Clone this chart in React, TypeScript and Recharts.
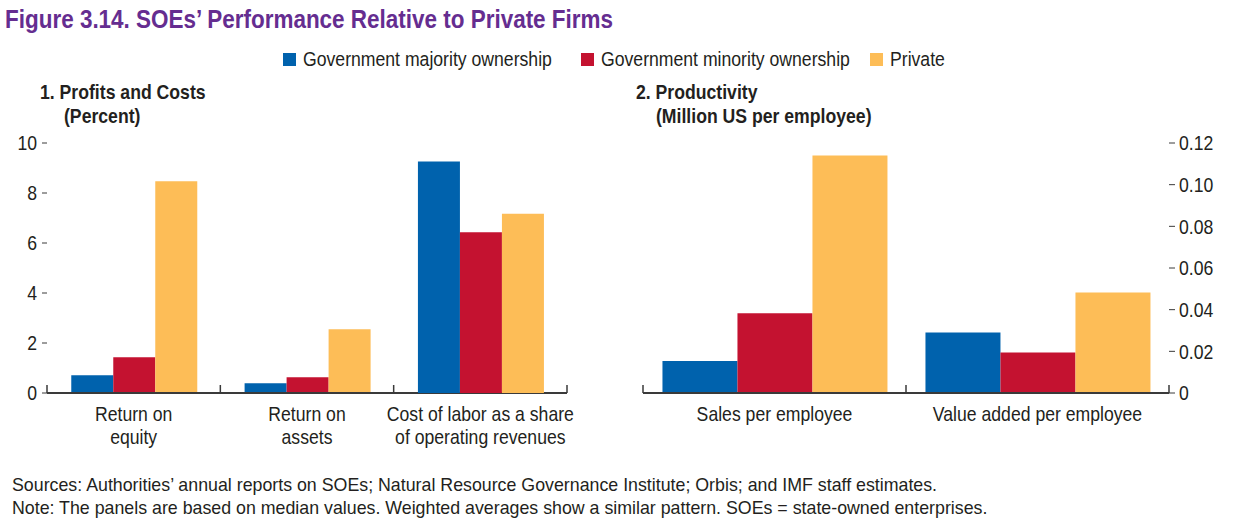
import React from 'react';
import { BarChart, Bar, XAxis, YAxis } from 'recharts';

const FONT = '"Liberation Sans", Arial, sans-serif';
const INK = '#231f20';
const AXIS = '#3a3a3a';
const SX = 0.86; // horizontal squeeze to imitate the condensed face
const FS = 20.5;

const seriesNames = ['Government majority ownership', 'Government minority ownership', 'Private'];
const seriesColors = ['#0062ad', '#c41230', '#fdbd57'];
const legendLeft = [283, 581, 870];

// Panel 1: first two categories read on the left axis, the third on the right axis
const profitCategories = [
  ['Return on', 'equity'],
  ['Return on', 'assets'],
  ['Cost of labor as a share', 'of operating revenues'],
];
const profitMajority = [0.71, 0.39, 32.4];
const profitMinority = [1.43, 0.63, 22.5];
const profitPrivate = [8.47, 2.55, 25.1];
const profitOnRight = [false, false, true];
const profitLeftTicks = [0, 2, 4, 6, 8, 10];
const profitRightTicks = [0, 5, 10, 15, 20, 25, 30, 35];

// Panel 2
const prodCategories = [['Sales per employee'], ['Value added per employee']];
const prodMajority = [0.0154, 0.0291];
const prodMinority = [0.0383, 0.0195];
const prodPrivate = [0.114, 0.0482];
const prodTicks = [0, 0.02, 0.04, 0.06, 0.08, 0.1, 0.12];

const footnotes = [
  'Sources: Authorities’ annual reports on SOEs; Natural Resource Governance Institute; Orbis; and IMF staff estimates.',
  'Note: The panels are based on median values. Weighted averages show a similar pattern. SOEs = state-owned enterprises.',
];

const profitData = profitCategories.map((lines, i) => {
  const r = profitOnRight[i];
  return {
    name: lines.join(' '),
    lines,
    majL: r ? null : profitMajority[i],
    minL: r ? null : profitMinority[i],
    prvL: r ? null : profitPrivate[i],
    majR: r ? profitMajority[i] : null,
    minR: r ? profitMinority[i] : null,
    prvR: r ? profitPrivate[i] : null,
  };
});

const prodData = prodCategories.map((lines, i) => ({
  name: lines.join(' '),
  lines,
  maj: prodMajority[i],
  min: prodMinority[i],
  prv: prodPrivate[i],
}));

function Narrow({ children, sx = SX }: { children: React.ReactNode; sx?: number }) {
  return (
    <span style={{ display: 'inline-block', transform: `scaleX(${sx})`, transformOrigin: 'left center', whiteSpace: 'nowrap' }}>
      {children}
    </span>
  );
}

function CategoryTick(props: any) {
  const { x, y, payload, index, rows } = props;
  const off = payload?.offset ?? 0;
  const row = rows.find((d: any) => d.name === payload.value);
  const lines: string[] = row ? row.lines : [String(payload.value)];
  const last = index === rows.length - 1;
  return (
    <g>
      <line x1={x - off} x2={x - off} y1={y} y2={y - 8} stroke={AXIS} strokeWidth={1.5} />
      {last && <line x1={x + off} x2={x + off} y1={y} y2={y - 8} stroke={AXIS} strokeWidth={1.5} />}
      {lines.map((t, k) => (
        <text
          key={k}
          transform={`translate(${x} ${y + 28 + k * 23}) scale(${SX} 1)`}
          textAnchor="middle"
          fill={INK}
          fontSize={FS}
          fontFamily={FONT}
        >
          {t}
        </text>
      ))}
    </g>
  );
}

function ValueTick(props: any) {
  const { x, y, payload, textAnchor, fmt } = props;
  const label = fmt ? fmt(payload.value) : String(payload.value);
  return (
    <text
      transform={`translate(${x} ${y}) scale(${SX} 1)`}
      textAnchor={textAnchor}
      dy="0.36em"
      fill={INK}
      fontSize={FS}
      fontFamily={FONT}
    >
      {label}
    </text>
  );
}

const prodFmt = (v: number) => (v === 0 ? '0' : v.toFixed(2));
const CHART_H = 460;
const MARGIN = { top: 143, right: 0, bottom: 0, left: 0 };

export default function App() {
  return (
    <div
      style={{
        position: 'absolute',
        left: 0,
        top: 0,
        width: 1234,
        height: 532,
        background: '#fff',
        fontFamily: FONT,
        color: INK,
        overflow: 'hidden',
      }}
    >
      <div style={{ position: 'absolute', left: 5, top: 3, fontSize: 26, lineHeight: '32px', fontWeight: 'bold', color: '#652d90' }}>
        <Narrow sx={0.864}>Figure 3.14. SOEs’ Performance Relative to Private Firms</Narrow>
      </div>

      {seriesNames.map((n, i) => (
        <div
          key={n}
          style={{ position: 'absolute', left: legendLeft[i], top: 47, display: 'flex', alignItems: 'center', fontSize: FS, lineHeight: '24px' }}
        >
          <span style={{ width: 13, height: 13, background: seriesColors[i], marginRight: 7, display: 'inline-block' }} />
          <Narrow>{n}</Narrow>
        </div>
      ))}

      <div style={{ position: 'absolute', left: 40, top: 80, fontSize: FS, fontWeight: 'bold', lineHeight: '24px' }}>
        <Narrow>1. Profits and Costs</Narrow>
        <br />
        <span style={{ marginLeft: 24 }}>
          <Narrow>(Percent)</Narrow>
        </span>
      </div>
      <div style={{ position: 'absolute', left: 636, top: 80, fontSize: FS, fontWeight: 'bold', lineHeight: '24px' }}>
        <Narrow>2. Productivity</Narrow>
        <br />
        <span style={{ marginLeft: 20 }}>
          <Narrow>(Million US per employee)</Narrow>
        </span>
      </div>

      {/* panel 1, left-axis bars and all visible axes */}
      <div style={{ position: 'absolute', left: 0, top: 0 }}>
        <BarChart width={617} height={CHART_H} data={profitData} margin={MARGIN} barCategoryGap="14%" barGap={0}>
          <XAxis
            dataKey="name"
            height={CHART_H - 143 - 250}
            axisLine={{ stroke: AXIS, strokeWidth: 2 }}
            tickLine={false}
            tickSize={0}
            tickMargin={0}
            interval={0}
            tick={(p: any) => <CategoryTick {...p} rows={profitData} />}
          />
          <YAxis
            yAxisId="left"
            width={47}
            domain={[0, 10]}
            ticks={profitLeftTicks}
            axisLine={false}
            tickLine={{ stroke: AXIS }}
            tickSize={5}
            tickMargin={5}
            tick={(p: any) => <ValueTick {...p} />}
          />
          <YAxis
            yAxisId="right"
            orientation="right"
            width={50}
            domain={[0, 35]}
            ticks={profitRightTicks}
            axisLine={false}
            tickLine={{ stroke: AXIS }}
            tickSize={6}
            tickMargin={4}
            tick={(p: any) => <ValueTick {...p} />}
          />
          <Bar yAxisId="left" dataKey="majL" fill={seriesColors[0]} isAnimationActive={false} />
          <Bar yAxisId="left" dataKey="minL" fill={seriesColors[1]} isAnimationActive={false} />
          <Bar yAxisId="left" dataKey="prvL" fill={seriesColors[2]} isAnimationActive={false} />
        </BarChart>
      </div>

      {/* panel 1, right-axis bars drawn on the same plot area */}
      <div style={{ position: 'absolute', left: 0, top: 0 }}>
        <BarChart width={617} height={CHART_H} data={profitData} margin={MARGIN} barCategoryGap="14%" barGap={0}>
          <XAxis dataKey="name" height={CHART_H - 143 - 250} axisLine={false} tickLine={false} tick={false} />
          <YAxis yAxisId="left" width={47} domain={[0, 10]} axisLine={false} tickLine={false} tick={false} />
          <YAxis
            yAxisId="right"
            orientation="right"
            width={50}
            domain={[0, 35]}
            axisLine={false}
            tickLine={false}
            tick={false}
          />
          <Bar yAxisId="right" dataKey="majR" fill={seriesColors[0]} isAnimationActive={false} />
          <Bar yAxisId="right" dataKey="minR" fill={seriesColors[1]} isAnimationActive={false} />
          <Bar yAxisId="right" dataKey="prvR" fill={seriesColors[2]} isAnimationActive={false} />
        </BarChart>
      </div>

      {/* panel 2 */}
      <div style={{ position: 'absolute', left: 600, top: 0 }}>
        <BarChart width={630} height={CHART_H} data={prodData} margin={MARGIN} barCategoryGap="7.4%" barGap={0}>
          <XAxis
            dataKey="name"
            height={CHART_H - 143 - 250}
            axisLine={{ stroke: AXIS, strokeWidth: 2 }}
            tickLine={false}
            tickSize={0}
            tickMargin={0}
            interval={0}
            tick={(p: any) => <CategoryTick {...p} rows={prodData} />}
          />
          <YAxis
            yAxisId="left"
            width={43}
            domain={[0, 0.12]}
            ticks={prodTicks}
            axisLine={false}
            tickLine={{ stroke: AXIS }}
            tickSize={6}
            tick={false}
          />
          <YAxis
            yAxisId="right"
            orientation="right"
            width={61}
            domain={[0, 0.12]}
            ticks={prodTicks}
            axisLine={false}
            tickLine={{ stroke: AXIS }}
            tickSize={6}
            tickMargin={4}
            tick={(p: any) => <ValueTick {...p} fmt={prodFmt} />}
          />
          <Bar yAxisId="right" dataKey="maj" fill={seriesColors[0]} isAnimationActive={false} />
          <Bar yAxisId="right" dataKey="min" fill={seriesColors[1]} isAnimationActive={false} />
          <Bar yAxisId="right" dataKey="prv" fill={seriesColors[2]} isAnimationActive={false} />
        </BarChart>
      </div>

      <div style={{ position: 'absolute', left: 12, top: 474, fontSize: 17.8, lineHeight: '23px' }}>
        {footnotes.map((f) => (
          <div key={f} style={{ whiteSpace: 'nowrap' }}>
            {f}
          </div>
        ))}
      </div>
    </div>
  );
}
